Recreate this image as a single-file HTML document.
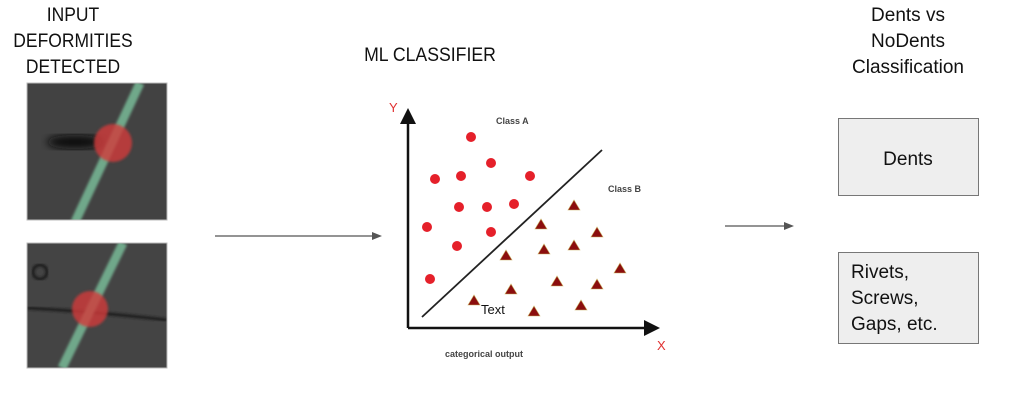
<!DOCTYPE html>
<html><head><meta charset="utf-8"><style>
html,body{margin:0;padding:0;background:#fff;width:1024px;height:412px;overflow:hidden}
svg{display:block}
text{font-family:"Liberation Sans",Arial,sans-serif}
</style></head><body>
<svg width="1024" height="412" viewBox="0 0 1024 412" xmlns="http://www.w3.org/2000/svg">
<defs>
<filter id="bl"><feGaussianBlur stdDeviation="4"/></filter>
<filter id="bl2"><feGaussianBlur stdDeviation="1.2"/></filter>
<clipPath id="c1"><rect x="27" y="83" width="140" height="137"/></clipPath>
<clipPath id="c2"><rect x="27" y="243" width="140" height="125"/></clipPath>
</defs>
<g fill="#111" font-size="19" text-anchor="middle" transform="translate(73,0) scale(0.92,1) translate(-73,0)">
<text x="73" y="21">INPUT</text>
<text x="73" y="47">DEFORMITIES</text>
<text x="73" y="73">DETECTED</text>
</g>
<text x="430" y="61" font-size="19" text-anchor="middle" fill="#111" transform="translate(430,0) scale(0.93,1) translate(-430,0)">ML CLASSIFIER</text>
<g fill="#111" font-size="19" text-anchor="middle">
<text x="908" y="21">Dents vs</text>
<text x="908" y="47">NoDents</text>
<text x="908" y="73">Classification</text>
</g>
<!-- image 1 -->
<g clip-path="url(#c1)">
<rect x="27" y="83" width="140" height="137" fill="#424242"/>
<ellipse cx="75" cy="142" rx="28" ry="7" fill="#111" filter="url(#bl)"/>
<line x1="140" y1="83" x2="75" y2="222" stroke="#6fa88a" stroke-width="9" filter="url(#bl2)"/>
<circle cx="113" cy="143" r="19" fill="#d23a3a" opacity="0.8" filter="url(#bl2)"/>
</g>
<rect x="27" y="83" width="140" height="137" fill="none" stroke="#bbb" stroke-width="1"/>
<!-- image 2 -->
<g clip-path="url(#c2)">
<rect x="27" y="243" width="140" height="125" fill="#444"/>
<circle cx="40" cy="272" r="7" fill="none" stroke="#1a1a1a" stroke-width="3" filter="url(#bl2)"/>
<path d="M27 308 Q100 312 167 320" stroke="#1e1e1e" stroke-width="3" fill="none" filter="url(#bl2)"/>
<line x1="123" y1="243" x2="62" y2="368" stroke="#6fa88a" stroke-width="9" filter="url(#bl2)"/>
<circle cx="90" cy="309" r="18" fill="#d23a3a" opacity="0.8" filter="url(#bl2)"/>
</g>
<rect x="27" y="243" width="140" height="125" fill="none" stroke="#bbb" stroke-width="1"/>
<!-- arrows -->
<line x1="215" y1="236" x2="374" y2="236" stroke="#555" stroke-width="1.3"/>
<path d="M382 236 L372 232 L372 240 Z" fill="#555"/>
<line x1="725" y1="226" x2="786" y2="226" stroke="#555" stroke-width="1.3"/>
<path d="M794 226 L784 222 L784 230 Z" fill="#555"/>
<!-- chart -->
<line x1="408" y1="120" x2="408" y2="328" stroke="#111" stroke-width="2.5"/>
<path d="M408 108 L400 124 L416 124 Z" fill="#111"/>
<line x1="408" y1="328" x2="648" y2="328" stroke="#111" stroke-width="2.5"/>
<path d="M660 328 L644 320 L644 336 Z" fill="#111"/>
<text x="389" y="112" font-size="13" fill="#e03030">Y</text>
<text x="657" y="350" font-size="13" fill="#e03030">X</text>
<line x1="422" y1="317" x2="602" y2="150" stroke="#222" stroke-width="1.8"/>
<text x="496" y="124" font-size="9" font-weight="bold" fill="#444">Class A</text>
<text x="608" y="192" font-size="9" font-weight="bold" fill="#444">Class B</text>
<text x="445" y="357" font-size="9" font-weight="bold" fill="#444">categorical output</text>
<g fill="#e5202a">
<circle cx="471" cy="137" r="5"/><circle cx="435" cy="179" r="5"/><circle cx="461" cy="176" r="5"/>
<circle cx="491" cy="163" r="5"/><circle cx="530" cy="176" r="5"/><circle cx="459" cy="207" r="5"/>
<circle cx="487" cy="207" r="5"/><circle cx="514" cy="204" r="5"/><circle cx="427" cy="227" r="5"/>
<circle cx="457" cy="246" r="5"/><circle cx="491" cy="232" r="5"/><circle cx="430" cy="279" r="5"/>
</g>
<g fill="#8b0e0e" stroke="#c8b060" stroke-width="0.6">
<path d="M574 200 l-6 10 h12 Z"/><path d="M541 219 l-6 10 h12 Z"/><path d="M597 227 l-6 10 h12 Z"/>
<path d="M506 250 l-6 10 h12 Z"/><path d="M544 244 l-6 10 h12 Z"/><path d="M574 240 l-6 10 h12 Z"/>
<path d="M620 263 l-6 10 h12 Z"/><path d="M511 284 l-6 10 h12 Z"/><path d="M557 276 l-6 10 h12 Z"/>
<path d="M597 279 l-6 10 h12 Z"/><path d="M474 295 l-6 10 h12 Z"/><path d="M534 306 l-6 10 h12 Z"/>
<path d="M581 300 l-6 10 h12 Z"/>
</g>
<text x="481" y="314" font-size="13" fill="#111">Text</text>
<!-- boxes -->
<rect x="838.5" y="118.5" width="140" height="77" fill="#eeeeee" stroke="#777" stroke-width="1"/>
<text x="908" y="165" font-size="19" text-anchor="middle" fill="#111">Dents</text>
<rect x="838.5" y="252.5" width="140" height="91" fill="#eeeeee" stroke="#777" stroke-width="1"/>
<g font-size="19" fill="#111">
<text x="851" y="278">Rivets,</text>
<text x="851" y="304">Screws,</text>
<text x="851" y="330">Gaps, etc.</text>
</g>
</svg>
</body></html>
